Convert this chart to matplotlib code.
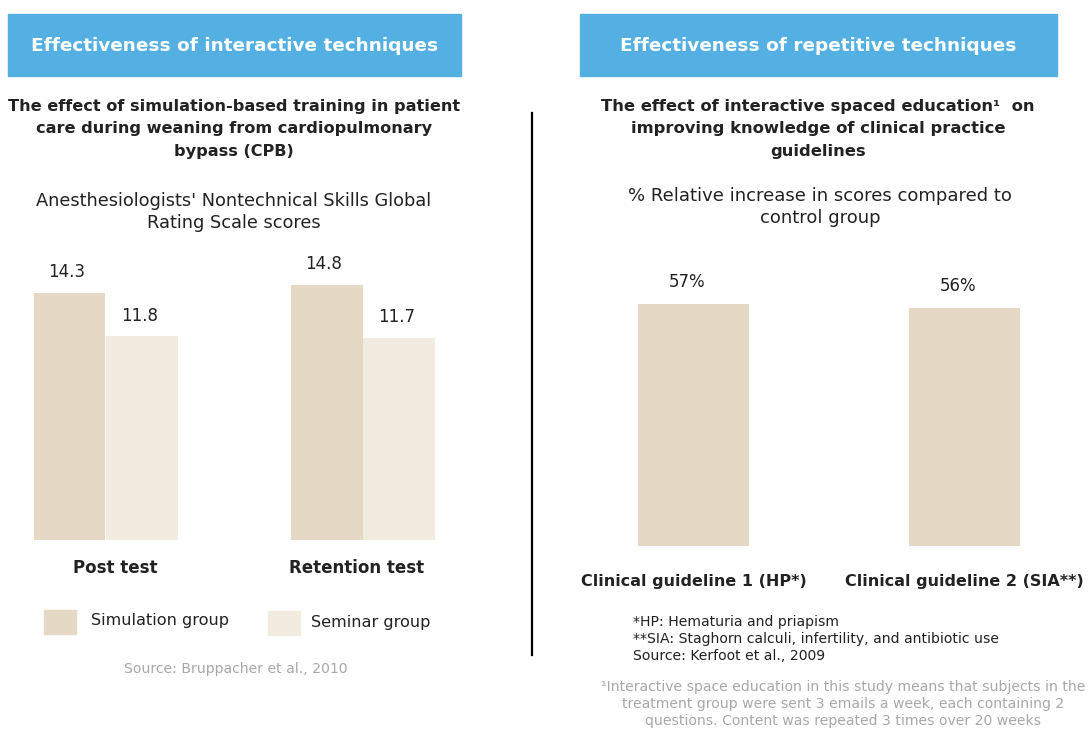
import matplotlib
matplotlib.use('Agg')
import matplotlib.pyplot as plt
from matplotlib.patches import Rectangle
from matplotlib.transforms import ScaledTranslation

W, H = 1091, 729

# data
left_groups = ['Post test', 'Retention test']
simulation_scores = [14.3, 14.8]
seminar_scores = [11.8, 11.7]
legend_labels = ['Simulation group', 'Seminar group']

right_groups = ['Clinical guideline 1 (HP*)', 'Clinical guideline 2 (SIA**)']
relative_increase = [57, 56]

SIM_COLOR = '#E5D9C5'
SEM_COLOR = '#F2EBE0'
BLUE = '#54B0E2'
DARK = '#222222'
GRAY = '#A8A8A8'

plt.rcParams['font.family'] = ['DejaVu Sans']


def fx(px):
    return px / W


def fy(py):
    return 1 - py / H


def box(px0, py0, px1, py1):
    # axes rectangle from pixel corners (top-left origin)
    return [fx(px0), fy(py1), fx(px1) - fx(px0), fy(py0) - fy(py1)]


def nudge(label, dx_px):
    label.set_transform(label.get_transform() + ScaledTranslation(dx_px / 100, 0, fig.dpi_scale_trans))


fig = plt.figure(figsize=(W / 100, H / 100), dpi=100)

# header boxes
for x0, x1, label in [(8, 461, 'Effectiveness of interactive techniques'),
                      (580, 1057, 'Effectiveness of repetitive techniques')]:
    fig.patches.append(Rectangle((fx(x0), fy(76)), fx(x1) - fx(x0), fy(14) - fy(76),
                                 transform=fig.transFigure, color=BLUE, zorder=0))
    fig.text(fx((x0 + x1) / 2), fy(46), label, color='white', fontsize=13.3,
             fontweight='bold', ha='center', va='center')

# divider
fig.add_artist(plt.Line2D([fx(532), fx(532)], [fy(113), fy(655)],
                          transform=fig.transFigure, color='black', lw=1.6))

# left titles
fig.text(fx(234), fy(129), 'The effect of simulation-based training in patient\n'
         'care during weaning from cardiopulmonary\nbypass (CPB)',
         ha='center', va='center', fontsize=11.6, fontweight='bold', color=DARK,
         linespacing=1.6)
fig.text(fx(234), fy(212), "Anesthesiologists' Nontechnical Skills Global\nRating Scale scores",
         ha='center', va='center', fontsize=12.8, color=DARK, linespacing=1.25)

# left bars
axL = fig.add_axes(box(20, 240, 450, 540))
px_per = 257.0
xmin = -(106 - 20) / px_per
axL.set_xlim(xmin, xmin + 430 / px_per)
axL.set_ylim(0, 300 / 17.25)
bw = 72 / px_per
off = 36.5 / px_per
xs = range(len(left_groups))
b1 = axL.bar([x - off for x in xs], simulation_scores, width=bw, color=SIM_COLOR)
b2 = axL.bar([x + off for x in xs], seminar_scores, width=bw, color=SEM_COLOR)
for bars in (b1, b2):
    for rect in bars:
        axL.annotate(f'{rect.get_height():.1f}',
                     (rect.get_x() + rect.get_width() / 2 - 0.012, rect.get_height()),
                     xytext=(0, 15), textcoords='offset points', ha='center', va='center',
                     fontsize=12, color=DARK)
axL.set_xticks(list(xs))
axL.set_xticklabels(left_groups, fontsize=12, fontweight='bold', color=DARK)
axL.tick_params(axis='x', length=0, pad=14)
nudge(axL.get_xticklabels()[0], 9)
nudge(axL.get_xticklabels()[1], -6)
axL.set_yticks([])
for s in axL.spines.values():
    s.set_visible(False)
axL.patch.set_alpha(0)

# left legend
for (x0, y0), col, lab, tx in [((44, 610), SIM_COLOR, legend_labels[0], 91),
                               ((268, 611), SEM_COLOR, legend_labels[1], 311)]:
    fig.patches.append(Rectangle((fx(x0), fy(y0 + 24)), fx(32), 24 / H,
                                 transform=fig.transFigure, color=col))
    fig.text(fx(tx), fy(y0 + 11), lab, ha='left', va='center', fontsize=11.6, color=DARK)

fig.text(fx(236), fy(669), 'Source: Bruppacher et al., 2010', ha='center', va='center',
         fontsize=10.1, color=GRAY)

# right titles
fig.text(fx(818), fy(129), 'The effect of interactive spaced education\u00b9  on\n'
         'improving knowledge of clinical practice\nguidelines',
         ha='center', va='center', fontsize=11.8, fontweight='bold', color=DARK,
         linespacing=1.6)
fig.text(fx(820), fy(207), '% Relative increase in scores compared to\ncontrol group',
         ha='center', va='center', fontsize=13, color=DARK, linespacing=1.3)

# right bars
axR = fig.add_axes(box(580, 246, 1080, 546))
px_per_r = 271.0
xmin_r = -(693.5 - 580) / px_per_r
axR.set_xlim(xmin_r, xmin_r + 500 / px_per_r)
axR.set_ylim(0, 300 / 4.25)
xr = range(len(right_groups))
br = axR.bar(list(xr), relative_increase, width=111 / px_per_r, color=SIM_COLOR)
for rect in br:
    axR.annotate(f'{rect.get_height():.0f}%',
                 (rect.get_x() + rect.get_width() / 2 - 0.025, rect.get_height()),
                 xytext=(0, 16), textcoords='offset points', ha='center', va='center',
                 fontsize=12, color=DARK)
axR.set_xticks(list(xr))
axR.set_xticklabels(right_groups, fontsize=11.5, fontweight='bold', color=DARK)
nudge(axR.get_xticklabels()[1], 3)
axR.tick_params(axis='x', length=0, pad=20)
axR.set_yticks([])
for s in axR.spines.values():
    s.set_visible(False)
axR.patch.set_alpha(0)

# right footnotes
fig.text(fx(633), fy(639), '*HP: Hematuria and priapism\n'
         '**SIA: Staghorn calculi, infertility, and antibiotic use\n'
         'Source: Kerfoot et al., 2009',
         ha='left', va='center', fontsize=10.1, color=DARK, linespacing=1.3)
fig.text(fx(843), fy(704), '\u00b9Interactive space education in this study means that subjects in the\n'
         'treatment group were sent 3 emails a week, each containing 2\n'
         'questions. Content was repeated 3 times over 20 weeks',
         ha='center', va='center', fontsize=10.1, color=GRAY, linespacing=1.25)

fig.savefig('out.png', dpi=100)
